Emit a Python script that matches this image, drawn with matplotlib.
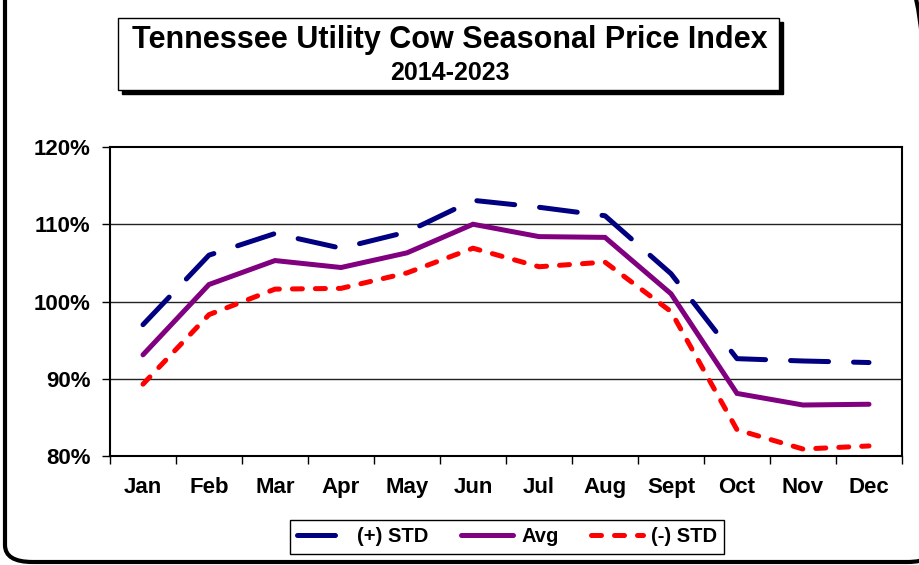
import matplotlib.pyplot as plt
from matplotlib.patches import FancyBboxPatch, Rectangle

plt.rcParams['font.family'] = ['Liberation Sans', 'DejaVu Sans']
plt.rcParams['font.weight'] = 'bold'

months = ['Jan', 'Feb', 'Mar', 'Apr', 'May', 'Jun', 'Jul', 'Aug', 'Sept', 'Oct', 'Nov', 'Dec']
plus_std = [97.0, 106.0, 108.8, 106.9, 109.0, 113.1, 112.2, 111.1, 103.6, 92.6, 92.3, 92.1]
avg = [93.1, 102.2, 105.3, 104.4, 106.3, 110.0, 108.4, 108.3, 101.0, 88.1, 86.6, 86.7]
minus_std = [89.3, 98.3, 101.6, 101.7, 103.7, 106.9, 104.5, 105.1, 98.7, 83.4, 80.9, 81.3]
y_ticks = [80, 90, 100, 110, 120]

W, H = 920, 565
fig = plt.figure(figsize=(9.2, 5.65), dpi=100)

# outer rounded frame
fig.patches.append(FancyBboxPatch((5 / W, 3 / H), 930 / W, 580 / H,
                                  boxstyle='round,pad=0,rounding_size=0.03',
                                  transform=fig.transFigure, fill=False,
                                  edgecolor='black', linewidth=3))

ax = fig.add_axes([110 / W, 109 / H, 792 / W, 309 / H])
x = [i + 0.5 for i in range(len(months))]
lw = 3.6
ax.plot(x, plus_std, color='#000080', lw=lw, dashes=(7.6, 5),
        dash_capstyle='round', label='(+) STD', zorder=3)
ax.plot(x, avg, color='#800080', lw=lw, solid_capstyle='round',
        solid_joinstyle='miter', label='Avg', zorder=4)
ax.plot(x, minus_std, color='#ff0000', lw=lw, dashes=(2.0, 2.6),
        dash_capstyle='round', label='(-) STD', zorder=3)

ax.set_xlim(0, 12)
ax.set_ylim(80, 120)
ax.set_yticks(y_ticks)
ax.set_yticklabels([f'{v}%' for v in y_ticks])
ax.set_xticks(range(13))
ax.set_xticklabels([])
ax.set_xticks(x, minor=True)
ax.set_xticklabels(months, minor=True)
ax.tick_params(axis='x', which='minor', length=0, pad=15, labelsize=16)
ax.tick_params(axis='x', which='major', length=6, width=1, direction='out')
ax.tick_params(axis='y', length=6, width=1, pad=8, labelsize=16)
for t in ax.get_yticklabels() + ax.get_xticklabels(minor=True):
    t.set_fontweight('bold')
for y in y_ticks[1:-1]:
    ax.axhline(y, color='#222222', lw=1, zorder=1)
for s in ax.spines.values():
    s.set_linewidth(1.5)

# title box with shadow
fig.patches.append(Rectangle((122 / W, (H - 94) / H), 661 / W, 72 / H,
                             transform=fig.transFigure, facecolor='black',
                             edgecolor='black', zorder=1))
fig.patches.append(Rectangle((118 / W, (H - 90) / H), 661 / W, 72 / H,
                             transform=fig.transFigure, facecolor='white',
                             edgecolor='black', linewidth=1, zorder=2))
fig.text(450 / W, 1 - 40 / H, 'Tennessee Utility Cow Seasonal Price Index',
         ha='center', va='center', fontsize=22, fontweight='bold', zorder=3)
fig.text(450 / W, 1 - 73 / H, '2014-2023', ha='center', va='center',
         fontsize=18, fontweight='bold', zorder=3)

leg = fig.legend(loc='center', bbox_to_anchor=(507 / W, 1 - 537 / H), ncol=3,
                 fancybox=False, edgecolor='black', framealpha=1,
                 prop={'size': 14.5, 'weight': 'bold'}, handlelength=2.6,
                 columnspacing=1.6, handletextpad=0.4, borderpad=0.35)
leg.get_frame().set_linewidth(1)

fig.savefig('out.png', dpi=100)
